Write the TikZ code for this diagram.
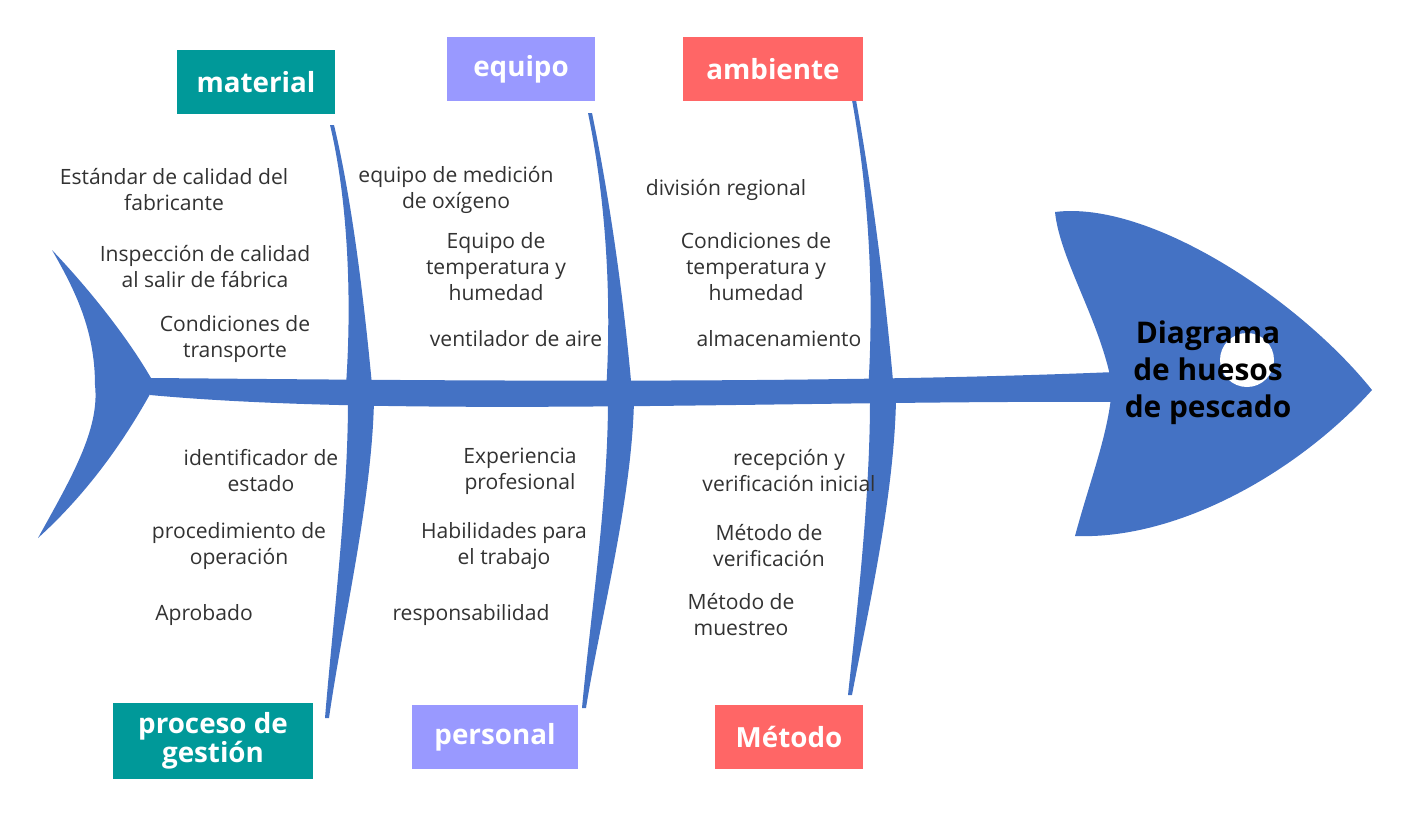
\documentclass[tikz,border=0pt]{standalone}
\usepackage{fontspec}
\setmainfont{Open Sans}
\definecolor{fishblue}{RGB}{68,114,196}
\definecolor{tealbox}{RGB}{0,153,153}
\definecolor{lilacbox}{RGB}{153,153,255}
\definecolor{redbox}{RGB}{255,102,102}
\definecolor{txt}{RGB}{50,50,50}
\begin{document}
\begin{tikzpicture}[x=0.02cm,y=-0.02cm,
  cause/.style={
    fill,
    text=white,
    font=\fontsize{15.8}{16.5}\selectfont\bfseries,
    align=center,
    inner sep=0pt
  },
  item/.style={
    align=center,
    text=txt,
    font=\fontsize{12}{14.8}\selectfont
  },
  bone/.style={
    fill=fishblue
  }
  ]
  \useasboundingbox (0,0) rectangle (1410,816);

  % tail
  \fill [bone] (52,250) .. controls (90,290) and (130,340) .. (155,385)
    .. controls (120,450) and (80,500) .. (38,538)
    .. controls (70,480) and (100,430) .. (95,385)
    .. controls (95,330) and (75,290) .. (52,250) -- cycle;
  % spine
  \fill [bone] (150,378) .. controls (400,380) and (800,385) .. (1115,372)
    -- (1115,402) .. controls (800,400) and (400,418) .. (150,395) -- cycle;
  % head
  \fill [bone] (1055,212) .. controls (1150,200) and (1300,300) .. (1372,390)
    .. controls (1300,470) and (1180,540) .. (1075,536)
    .. controls (1090,480) and (1110,430) .. (1112,385)
    .. controls (1100,320) and (1060,260) .. (1055,212) -- cycle;
  \fill [white] (1247,360) circle (27);

  % bones
  \foreach \xa/\ya/\xb/\yb/\xc/\yc in {
      330/125/358/385/325/718,
      588/113/618/392/582/708,
      852/100/880/392/848/695}{
    \fill [bone] (\xa,\ya) .. controls ({\xa+18},200) and ({\xb-6},300) .. ({\xb-12},\yb)
      -- ({\xb+14},\yb) .. controls ({\xb+6},300) and ({\xa+22},200) .. ({\xa+4},\ya) -- cycle;
    \fill [bone] ({\xb-10},400) .. controls ({\xb-10},500) and ({\xc+8},620) .. (\xc,\yc)
      -- ({\xc+4},\yc) .. controls ({\xc+18},620) and ({\xb+14},500) .. ({\xb+16},400) -- cycle;
  }

  % cause boxes
  \node [cause, fill=tealbox, minimum width=158*0.02cm, minimum height=64*0.02cm] (material) at (256,82) {material};
  \node [cause, fill=lilacbox, minimum width=148*0.02cm, minimum height=64*0.02cm] (equipo) at (521,69) {equipo};
  \node [cause, fill=redbox, minimum width=180*0.02cm, minimum height=64*0.02cm] (ambiente) at (773,69) {ambiente};
  \node [cause, fill=tealbox, minimum width=200*0.02cm, minimum height=76*0.02cm] (gestion) at (213,741) {proceso de\\gestión};
  \node [cause, fill=lilacbox, minimum width=166*0.02cm, minimum height=64*0.02cm] (personal) at (495,737) {personal};
  \node [cause, fill=redbox, minimum width=148*0.02cm, minimum height=64*0.02cm] (metodo) at (789,737) {Método};

  % items
  \node [item] (estandar) at (174,190) {Estándar de calidad del\\fabricante};
  \node [item] (inspeccion) at (205,267) {Inspección de calidad\\al salir de fábrica};
  \node [item] (transporte) at (235,339) {Condiciones de\\transporte};
  \node [item] (oxigeno) at (456,190) {equipo de medición\\de oxígeno};
  \node [item] (eqtemp) at (496,267) {Equipo de\\temperatura y\\humedad};
  \node [item] (ventilador) at (516,339) {ventilador de aire};
  \node [item] (division) at (726,190) {división regional};
  \node [item] (condtemp) at (756,267) {Condiciones de\\temperatura y\\humedad};
  \node [item] (almacen) at (779,339) {almacenamiento};
  \node [item] (identif) at (261,471) {identificador de\\estado};
  \node [item] (procedim) at (239,546) {procedimiento de\\operación};
  \node [item] (aprobado) at (204,615) {Aprobado};
  \node [item] (experiencia) at (520,471) {Experiencia\\profesional};
  \node [item] (habilidades) at (504,546) {Habilidades para\\el trabajo};
  \node [item] (respons) at (471,615) {responsabilidad};
  \node [item] (recepcion) at (789,471) {recepción y\\verificación inicial};
  \node [item] (verif) at (769,546) {Método de\\verificación};
  \node [item] (muestreo) at (741,615) {Método de\\muestreo};

  \node [align=center, font=\fontsize{17}{21}\selectfont\bfseries] (titulo) at (1208,373) {Diagrama\\de huesos\\de pescado};
\end{tikzpicture}
\end{document}
